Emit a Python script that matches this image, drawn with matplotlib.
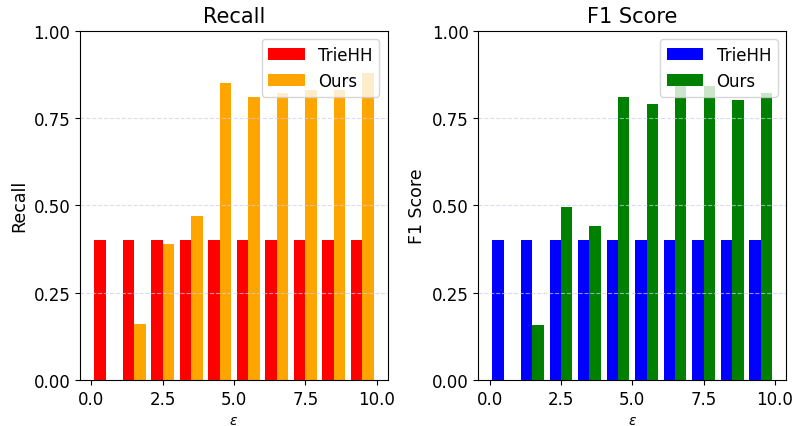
import numpy as np
import matplotlib
matplotlib.use('Agg')
import matplotlib.pyplot as plt

eps = [0.5, 1.5, 2.5, 3.5, 4.5, 5.5, 6.5, 7.5, 8.5, 9.5]
recall_triehh = [0.40, 0.40, 0.40, 0.40, 0.40, 0.40, 0.40, 0.40, 0.40, 0.40]
recall_ours = [0.0, 0.16, 0.39, 0.47, 0.85, 0.81, 0.82, 0.83, 0.83, 0.88]
f1_triehh = [0.40, 0.40, 0.40, 0.40, 0.40, 0.40, 0.40, 0.40, 0.40, 0.40]
f1_ours = [0.0, 0.158, 0.495, 0.44, 0.81, 0.79, 0.84, 0.84, 0.80, 0.82]

x = np.array(eps)
w = 0.4

fig, axes = plt.subplots(1, 2, figsize=(7.94, 4.27), dpi=100)

panels = [
    (axes[0], recall_triehh, recall_ours, 'red', 'orange', 'Recall'),
    (axes[1], f1_triehh, f1_ours, 'blue', 'green', 'F1 Score'),
]
for ax, base, ours, c1, c2, name in panels:
    ax.bar(x - w / 2, base, width=w, color=c1, label='TrieHH')
    ax.bar(x + w / 2, ours, width=w, color=c2, label='Ours')
    ax.set_ylim(0, 1)
    ax.set_yticks([0, 0.25, 0.5, 0.75, 1.0])
    ax.set_xticks([0, 2.5, 5, 7.5, 10])
    ax.tick_params(labelsize=12)
    ax.set_title(name, fontsize=15)
    ax.set_ylabel(name, fontsize=12.5)
    ax.set_xlabel(r'$\epsilon$', fontsize=10)
    ax.grid(axis='y', linestyle='--', color='#ccccee', alpha=0.7)
    ax.legend(loc='upper right', fontsize=12, handlelength=2.2)

plt.subplots_adjust(left=0.101, right=0.99, top=0.926, bottom=0.108, wspace=0.295)
plt.savefig('out.png')
